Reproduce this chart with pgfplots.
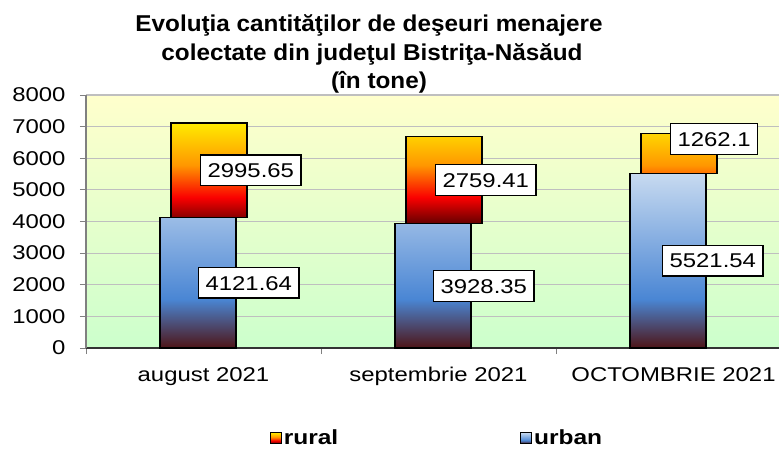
\documentclass[border=0pt]{standalone}
\usepackage{fontspec}
\setmainfont{Liberation Sans}[FakeStretch=1.2]
\newfontfamily\titlefont{Liberation Sans}[FakeStretch=1.06]
\usepackage{pgfplots}
\pgfplotsset{compat=1.18}
\definecolor{ubot}{RGB}{78,20,22}
\definecolor{umid}{RGB}{74,134,212}
\definecolor{utop}{RGB}{200,218,240}
\definecolor{rbot}{RGB}{100,0,0}
\definecolor{rred}{RGB}{250,0,0}
\definecolor{rora}{RGB}{255,150,0}
\definecolor{rtop}{RGB}{255,235,0}
\definecolor{bgtop}{RGB}{255,255,204}
\definecolor{bgbot}{RGB}{204,255,204}
\pgfdeclareverticalshading{urbanshade}{100bp}{color(0bp)=(ubot); color(25bp)=(ubot); color(39bp)=(umid); color(75bp)=(utop); color(100bp)=(utop)}
\pgfdeclareverticalshading{ruralshade}{100bp}{color(0bp)=(rbot); color(25bp)=(rbot); color(38bp)=(rred); color(54bp)=(rora); color(75bp)=(rtop); color(100bp)=(rtop)}
\begin{document}
\begin{tikzpicture}
\path[use as bounding box] (0,0) rectangle (779bp,449bp);
\begin{scope}[every node/.style={anchor=base, font=\titlefont\bfseries\fontsize{23}{29}\selectfont}]
\node at (369bp,417bp) {Evoluţia cantităţilor de deşeuri menajere};
\node at (372bp,388bp) {colectate din judeţul Bistriţa-Năsăud};
\node at (379bp,360bp) {(în tone)};
\end{scope}
\begin{axis}[
  at={(86bp,101bp)}, anchor=south west,
  scale only axis, width=705bp, height=253bp,
  ybar stacked, bar width=76bp,
  xmin=-0.5, xmax=2.5, ymin=0, ymax=8000,
  axis x line*=bottom, axis y line*=left,
  x axis line style={draw=black!80, line width=1.2bp},
  y axis line style={draw=gray, line width=1.2bp},
  axis background/.style={top color=bgtop, bottom color=bgbot},
  ytick={0,1000,...,8000},
  xtick={0,1,2},
  xticklabels={august 2021, septembrie 2021, OCTOMBRIE 2021},
  major x tick style={draw=none},
  minor xtick={-0.5,0.5,1.5,2.5},
  minor x tick style={draw=gray, line width=1bp},
  major y tick style={draw=gray, line width=1bp},
  tick align=outside, major tick length=6bp, minor tick length=6bp,
  ymajorgrids, major grid style={draw=black!25, line width=1.2bp},
  tick label style={font=\fontsize{20}{24}\selectfont},
  /pgf/number format/assume math mode=true,
  /pgf/number format/1000 sep={},
  yticklabel style={xshift=-11bp},
  xticklabel style={yshift=-10bp},
  point meta=explicit symbolic,
  nodes near coords,
  visualization depends on={rawx \as \rawx},
  every node near coord/.append style={anchor=west, fill=white, draw=black, line width=1.2bp,
     inner xsep=7bp, inner ysep=8bp, text height=14.5bp, text depth=0bp,
     font=\fontsize{20}{24}\selectfont},
  legend columns=2,
  reverse legend,
  legend style={draw=none, fill=none, at={(0.498,-0.356)}, anchor=center,
     font=\bfseries\fontsize{20.5}{24}\selectfont,
     /tikz/every even column/.append style={column sep=180bp}},
  legend image code/.code={\draw[#1, line width=0.8bp] (0bp,-5.5bp) rectangle (11bp,5.5bp);},
  clip=false,
]
\addplot[draw=black, line width=1.3bp, shade, shading=urbanshade, bar shift=-5.5bp,
  every node near coord/.append style={xshift={(\rawx>1.5)*-6bp}}]
  coordinates {(0,4121.64)[4121.64] (1,3928.35)[3928.35] (2,5521.54)[5521.54]};
\addlegendentry{urban}
\addplot[draw=black, line width=1.3bp, shade, shading=ruralshade, bar shift=5.5bp,
  every node near coord/.append style={xshift=-9bp, yshift={(\rawx>1.5)*14.5bp}}]
  coordinates {(0,2995.65)[2995.65] (1,2759.41)[2759.41] (2,1262.1)[1262.1]};
\addlegendentry{rural}
\end{axis}
\end{tikzpicture}
\end{document}
